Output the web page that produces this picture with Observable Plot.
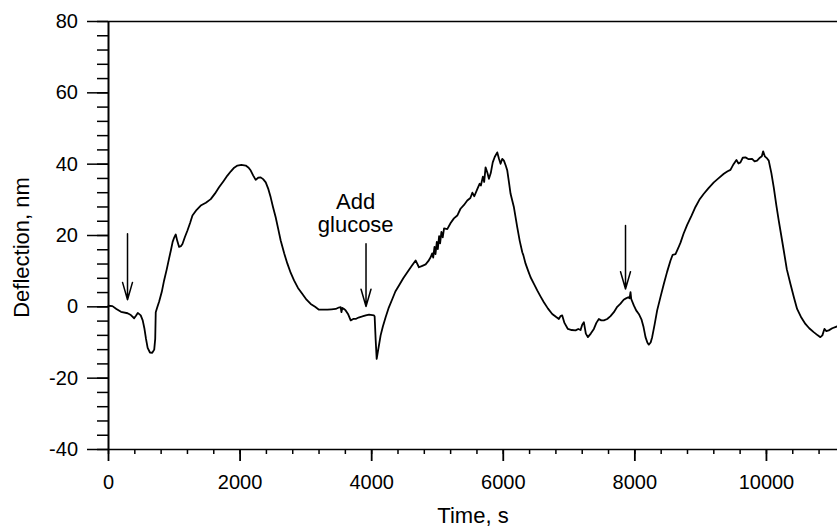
<!DOCTYPE html>
<html>
<head>
<meta charset="utf-8">
<script src="https://cdn.jsdelivr.net/npm/d3@7"></script>
<script src="https://cdn.jsdelivr.net/npm/@observablehq/plot@0.6"></script>
<style>
  body { margin: 0; background: #fff; }
</style>
</head>
<body>
<div id="chart"></div>
<script>
// Cantilever deflection trace (nm) versus time (s)
const time = [
  0, 60, 120, 190, 290, 340, 390, 420, 445, 490, 520, 545, 570, 595, 630, 665, 695, 710, 718, 740,
  770, 810, 845, 885, 920, 950, 975, 1000, 1022, 1045, 1073, 1100, 1124, 1160, 1200, 1240, 1276, 1340, 1402, 1480,
  1554, 1620, 1680, 1750, 1807, 1860, 1910, 1960, 2020, 2086, 2130, 2162, 2200, 2237, 2275, 2313, 2350, 2390, 2430, 2465,
  2500, 2541, 2580, 2617, 2670, 2719, 2770, 2820, 2880, 2947, 3010, 3073, 3140, 3199, 3260, 3327, 3390, 3453, 3500, 3529,
  3540, 3555, 3580, 3605, 3640, 3681, 3720, 3757, 3800, 3858, 3910, 3960, 4035, 4045, 4060, 4076, 4095, 4136, 4170, 4212,
  4260, 4314, 4360, 4415, 4480, 4542, 4610, 4668, 4690, 4718, 4770, 4820, 4860, 4896, 4920, 4935, 4955, 4970, 4990, 5005,
  5025, 5040, 5060, 5080, 5100, 5149, 5200, 5250, 5301, 5350, 5400, 5453, 5500, 5530, 5560, 5605, 5640, 5660, 5690, 5710,
  5731, 5760, 5782, 5810, 5840, 5870, 5909, 5935, 5959, 5985, 6010, 6040, 6061, 6090, 6111, 6162, 6213, 6250, 6289, 6305,
  6339, 6380, 6415, 6470, 6516, 6570, 6617, 6680, 6744, 6800, 6845, 6870, 6896, 6930, 6982, 7040, 7099, 7140, 7175, 7200,
  7225, 7255, 7286, 7330, 7377, 7415, 7453, 7490, 7529, 7580, 7630, 7681, 7732, 7782, 7830, 7858, 7900, 7920, 7934, 7945,
  7984, 8020, 8060, 8100, 8130, 8162, 8190, 8212, 8240, 8263, 8300, 8339, 8390, 8440, 8490, 8542, 8575, 8618, 8660, 8694,
  8740, 8795, 8860, 8921, 8980, 9048, 9120, 9200, 9270, 9352, 9410, 9453, 9500, 9544, 9575, 9605, 9640, 9681, 9730, 9782,
  9820, 9858, 9900, 9930, 9950, 9975, 10010, 10035, 10075, 10111, 10150, 10187, 10225, 10263, 10310, 10365, 10420, 10466, 10530, 10592,
  10650, 10718, 10780, 10820, 10850, 10881, 10910, 10947, 11000, 11074
];
const deflection = [
  0.3, 0.2, -0.6, -1.4, -1.8, -2.3, -3.2, -2.4, -1.7, -2.4, -3.8, -6.0, -9.0, -11.5, -12.8, -12.9, -12.0, -9.0, -1.5, -0.2,
  1.5, 4.2, 7.4, 10.5, 13.5, 16.0, 18.2, 19.5, 20.3, 18.5, 16.8, 17.0, 17.6, 19.5, 21.4, 23.5, 25.6, 27.2, 28.4, 29.2,
  30.2, 31.8, 33.5, 35.3, 36.8, 38.0, 39.0, 39.6, 39.8, 39.6, 39.0, 38.2, 36.8, 35.6, 36.2, 36.3, 35.8, 34.9, 33.0, 30.7,
  28.0, 25.1, 21.8, 18.6, 15.0, 12.1, 9.5, 7.4, 5.3, 3.6, 2.0, 0.8, 0.0, -0.8, -0.8, -0.8, -0.7, -0.6, -0.2, -0.1,
  -1.5, -0.3, -0.6, -1.0, -2.0, -3.8, -3.4, -3.4, -3.0, -2.7, -2.4, -2.2, -2.4, -2.7, -9.0, -14.6, -12.5, -8.0, -5.5, -2.9,
  -0.2, 2.2, 4.3, 6.0, 8.0, 9.7, 11.5, 13.0, 12.2, 11.1, 11.5, 11.9, 12.8, 13.9, 15.0, 13.8, 16.8, 14.8, 18.2, 16.2,
  19.8, 17.8, 21.0, 19.5, 22.0, 21.8, 23.5, 24.8, 25.6, 27.5, 28.5, 29.8, 30.5, 32.0, 31.0, 33.0, 34.5, 34.0, 36.5, 35.0,
  39.1, 37.5, 35.9, 37.5, 40.5, 42.0, 43.3, 41.5, 40.1, 41.5, 41.0, 39.5, 38.2, 34.5, 31.7, 27.9, 22.3, 18.5, 15.3, 14.5,
  12.1, 10.0, 8.3, 6.3, 4.6, 2.8, 1.3, -0.5, -2.0, -2.8, -3.4, -2.6, -2.4, -4.5, -6.2, -6.5, -6.6, -6.2, -6.5, -5.0,
  -4.3, -7.5, -8.5, -7.5, -6.2, -4.5, -3.4, -3.8, -3.8, -3.4, -2.6, -1.5, 0.0, 0.9, 2.0, 2.3, 2.7, 2.4, 4.1, 2.2,
  0.4, -1.0, -2.0, -3.5, -5.5, -8.5, -10.0, -10.6, -10.0, -8.5, -5.0, -1.0, 2.8, 6.4, 9.8, 13.0, 14.6, 14.8, 16.5, 18.0,
  20.5, 23.0, 25.5, 28.0, 30.0, 31.7, 33.3, 34.9, 36.0, 37.3, 38.0, 38.4, 40.0, 41.2, 40.2, 40.5, 41.8, 41.9, 41.4, 41.5,
  40.8, 41.0, 41.8, 42.2, 43.6, 42.2, 41.6, 41.0, 37.5, 33.5, 28.5, 24.2, 20.0, 15.8, 10.5, 6.4, 2.5, -0.6, -3.0, -4.8,
  -6.0, -7.1, -8.0, -8.5, -8.0, -6.2, -6.8, -6.6, -6.0, -5.5
];

// Axis ticks
const xMajor = [0, 2000, 4000, 6000, 8000, 10000];
const xMinor = d3.range(0, 11000, 400);
const yMajor = [-40, -20, 0, 20, 40, 60, 80];
const yMinor = d3.range(-40, 81, 4);

// Injection markers (time, arrow top, arrow tip) and note
const arrowTime = [289, 3914, 7858];
const arrowTop = [20.5, 17.7, 22.8];
const arrowTip = [2.0, 0.1, 5.0];
const noteTime = [3757];
const noteLevel = [20.9];
const noteText = ["Add\nglucose"];

const trace = time.map((t, i) => ({t, d: deflection[i]}));
const arrows = arrowTime.map((t, i) => ({t, top: arrowTop[i], tip: arrowTip[i]}));
const notes = noteTime.map((t, i) => ({t, level: noteLevel[i], text: noteText[i]}));

// plain integers with an ASCII hyphen for negatives
const plain = (d) => String(d);

const chart = Plot.plot({
  width: 837,
  height: 530,
  marginLeft: 108,
  marginRight: 0,
  marginTop: 21,
  marginBottom: 81,
  style: {fontFamily: "'Liberation Sans', Arial, sans-serif", fontSize: "20px", color: "#000", background: "#fff"},
  x: {domain: [0, 11080], label: null},
  y: {domain: [-40, 80], label: null},
  marks: [
    Plot.ruleY([-40, 80], {stroke: "#000", strokeWidth: 1.6}),
    Plot.ruleX([0], {y1: -40, y2: 80, stroke: "#000", strokeWidth: 2}),
    Plot.axisY(yMinor, {tickSize: 11, text: null, strokeWidth: 1.5, label: null}),
    Plot.axisY(yMajor, {tickSize: 21, tickPadding: 9.5, strokeWidth: 1.5, label: null, fontSize: 20, tickFormat: plain}),
    Plot.axisX(xMinor, {tickSize: 5, text: null, strokeWidth: 1.5, label: null}),
    Plot.axisX(xMajor, {tickSize: 12, tickPadding: 13, strokeWidth: 1.8, label: null, fontSize: 20, tickFormat: plain}),
    Plot.line(trace, {x: "t", y: "d", stroke: "#000", strokeWidth: 1.8}),
    Plot.arrow(arrows, {x1: "t", x2: "t", y1: "top", y2: "tip", stroke: "#000", strokeWidth: 1.5, headAngle: 32, headLength: 18}),
    Plot.text(notes, {x: "t", y: "level", text: "text", lineAnchor: "bottom", lineHeight: 1.06, fontSize: 22}),
    Plot.text(["Time, s"], {text: d => d, frameAnchor: "bottom", textAnchor: "middle", lineAnchor: "middle", dy: 66, fontSize: 22}),
    Plot.text(["Deflection, nm"], {text: d => d, frameAnchor: "left", textAnchor: "middle", lineAnchor: "middle", rotate: -90, dx: -86.5, dy: 12, fontSize: 22})
  ]
});
document.getElementById("chart").appendChild(chart);
</script>
</body>
</html>
